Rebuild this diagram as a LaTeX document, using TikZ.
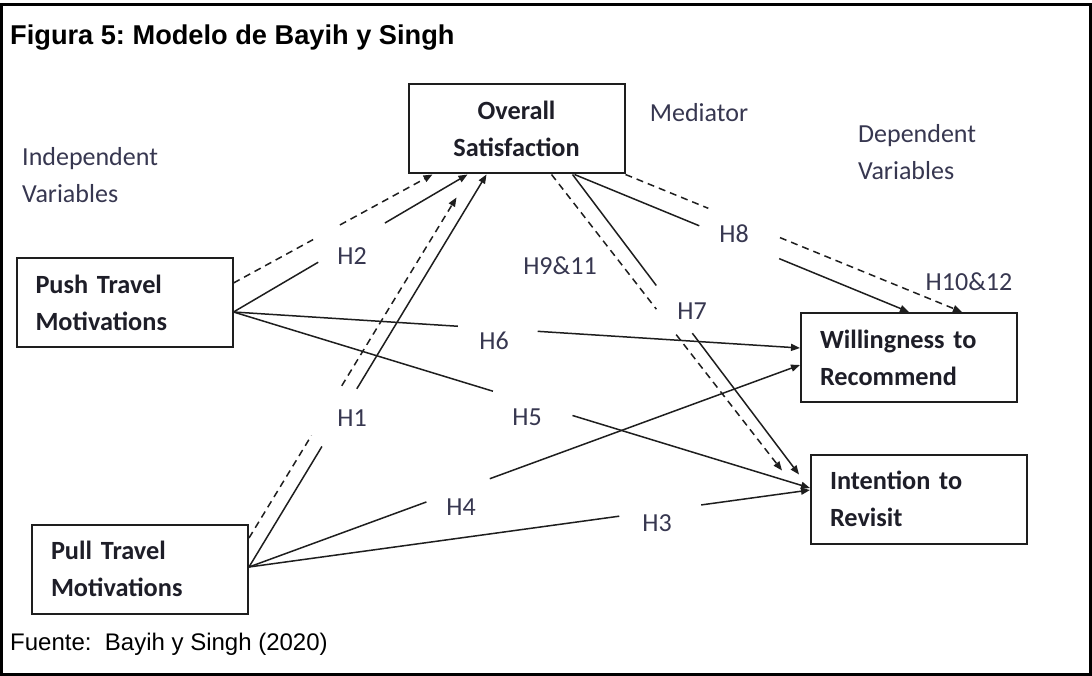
\documentclass[tikz,border=0pt]{standalone}
\usepackage{fontspec}
\setmainfont{Liberation Sans}
\newfontfamily\carl{Carlito}
\usetikzlibrary{arrows.meta,calc}
\frenchspacing
\definecolor{boxtxt}{RGB}{30,30,40}
\definecolor{labtxt}{RGB}{55,55,80}
\definecolor{edge}{RGB}{30,30,30}
\tikzset{
  box/.style={draw=edge, line width=2pt, inner xsep=19pt, inner ysep=0pt,
    text width=178pt, align=left, minimum height=89pt,
    font=\carl\bfseries\fontsize{26.3}{37}\selectfont, text=boxtxt},
  hlab/.style={font=\carl\fontsize{26}{28}\selectfont, text=labtxt, inner sep=0pt},
  grp/.style={font=\carl\fontsize{26}{37}\selectfont, text=labtxt, inner sep=0pt, align=left},
  conn/.style={draw=edge, line width=1.5pt, -{Triangle[length=9pt,width=7pt]}},
  dconn/.style={conn, dash pattern=on 7pt off 5pt},
}
\begin{document}
\begin{tikzpicture}[x=1pt,y=-1pt]
\useasboundingbox (0,0) rectangle (1092,676);
\fill[white] (0,0) rectangle (1092,676);
\draw[line width=3pt] (1.5,5) rectangle (1090.5,674.5);

% title and source
\node[anchor=base west, inner sep=0pt, font=\fontsize{27.2}{30}\selectfont\bfseries] (title) at (10,45) {Figura 5: Modelo de Bayih y Singh};
\node[anchor=base west, inner sep=0pt, font=\fontsize{24}{26}\selectfont] (src) at (10,650) {Fuente:\ \ Bayih y Singh (2020)};

% boxes
\node[box] (push) at (124.5,302.5) {Push Travel\\Motivations};
\node[box] (pull) at (140,569) {Pull Travel\\Motivations};
\node[box, align=center] (os) at (516.5,129) {Overall\\Satisfaction};
\node[box] (wr) at (909,357.5) {Willingness to\\Recommend};
\node[box] (ir) at (919,499) {Intention to\\Revisit};

% group labels
\node[grp, anchor=west] (indep) at (22,175) {Independent\\Variables};
\node[grp, anchor=west] (dep) at (858,152) {Dependent\\Variables};
\node[grp] (med) at (699,113) {Mediator};

% connection points
\coordinate (pushHi) at ([yshift=19.5pt]push.east);
\coordinate (pushO) at ([yshift=-9.5pt]push.east);
\coordinate (pullHi) at ([yshift=31pt]pull.east);
\coordinate (pullO) at ([yshift=2pt]pull.east);
\coordinate (osA) at ([xshift=25pt]os.south west);
\coordinate (osB) at ([xshift=60pt]os.south west);
\coordinate (osC) at ([xshift=79pt]os.south west);
\coordinate (hOneEnd) at ([xshift=49pt,yshift=-23pt]os.south west);
\coordinate (osD) at ([xshift=144pt]os.south west);
\coordinate (osE) at ([xshift=165pt]os.south west);
\coordinate (osF) at ([xshift=167pt]os.south west);
\coordinate (wrA) at ([yshift=9.5pt]wr.west);
\coordinate (wrB) at ([yshift=-7.5pt]wr.west);
\coordinate (wrC) at ([xshift=109pt]wr.north west);
\coordinate (wrD) at ([xshift=162pt]wr.north west);
\coordinate (irA) at ([yshift=11pt]ir.west);
\coordinate (irB) at ([yshift=9pt]ir.west);
\coordinate (hNineEnd) at ([xshift=-28pt,yshift=-17pt]ir.north west);
\coordinate (hSevenEnd) at ([xshift=-11pt,yshift=-21pt]ir.north west);

% H2
\draw[dconn] (pushHi) -- ($(pushHi)!0.40!(osA)$) ($(pushHi)!0.535!(osA)$) -- (osA);
\draw[conn] (pushO) -- ($(pushO)!0.362!(osB)$) ($(pushO)!0.647!(osB)$) -- (osB);
% H6
\draw[conn] (pushO) -- ($(pushO)!0.396!(wrA)$) ($(pushO)!0.537!(wrA)$) -- (wrA);
% H5
\draw[conn] (pushO) -- ($(pushO)!0.450!(irA)$) ($(pushO)!0.588!(irA)$) -- (irA);
% H1
\draw[dconn] (pullHi) -- ($(pullHi)!0.301!(hOneEnd)$) ($(pullHi)!0.447!(hOneEnd)$) -- (hOneEnd);
\draw[conn] (pullO) -- ($(pullO)!0.307!(osC)$) ($(pullO)!0.454!(osC)$) -- (osC);
% H4
\draw[conn] (pullO) -- ($(pullO)!0.322!(wrB)$) ($(pullO)!0.437!(wrB)$) -- (wrB);
% H3
\draw[conn] (pullO) -- ($(pullO)!0.660!(irB)$) ($(pullO)!0.806!(irB)$) -- (irB);
% H9&11 and H7
\draw[dconn] (osD) -- ($(osD)!0.455!(hNineEnd)$) ($(osD)!0.541!(hNineEnd)$) -- (hNineEnd);
\draw[conn] (osE) -- ($(osE)!0.370!(hSevenEnd)$) ($(osE)!0.529!(hSevenEnd)$) -- (hSevenEnd);
% H8 and H10&12
\draw[conn] (osF) -- ($(osF)!0.373!(wrC)$) ($(osF)!0.612!(wrC)$) -- (wrC);
\draw[dconn] (os.south east) -- ($(os.south east)!0.246!(wrD)$) ($(os.south east)!0.459!(wrD)$) -- (wrD);

% hypothesis labels
\node[hlab] (h1) at (352,418) {H1};
\node[hlab] (h2) at (352,256) {H2};
\node[hlab] (h3) at (657,523) {H3};
\node[hlab] (h4) at (461,507) {H4};
\node[hlab] (h5) at (527,417) {H5};
\node[hlab] (h6) at (494,341) {H6};
\node[hlab] (h7) at (692,311) {H7};
\node[hlab] (h8) at (734,234) {H8};
\node[hlab] (h911) at (560,266) {H9\&11};
\node[hlab] (h1012) at (969,282) {H10\&12};
\end{tikzpicture}
\end{document}
